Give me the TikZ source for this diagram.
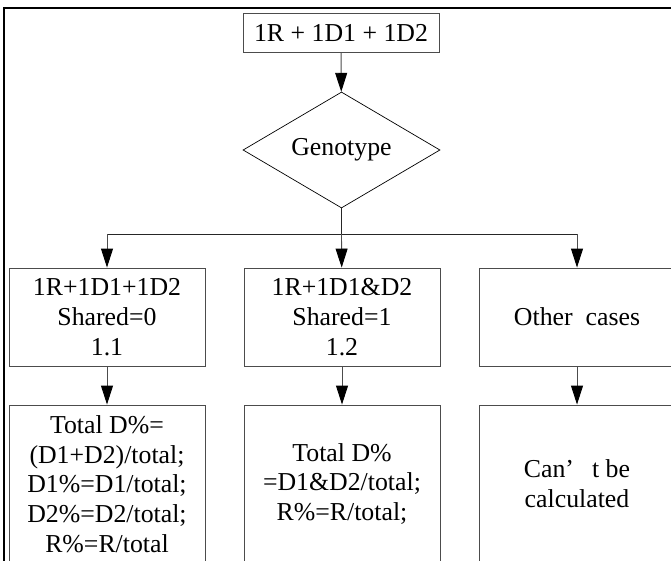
\documentclass[tikz,border=0pt]{standalone}
\usepackage{fontspec}
\setmainfont{Liberation Serif}
\usetikzlibrary{shapes.geometric,arrows.meta}

\begin{document}
\begin{tikzpicture}[x=1pt,y=-1pt]

% ---------- common style ----------
\tikzstyle{txt}=[font=\fontsize{25.8}{29.7}\selectfont,align=center]
\tikzstyle{box}=[txt,draw=black!70,line width=0.9pt,minimum width=196pt,inner sep=2pt]
\tikzstyle{choice}=[txt,diamond,draw=black,line width=0.7pt,inner sep=0pt,aspect=1.7,
                    minimum width=197pt,minimum height=116pt]
\tikzstyle{arrow}=[draw=black!70,line width=0.9pt,-{Triangle[width=12pt,length=19pt,black]}]
\tikzstyle{link}=[draw=black!85,line width=0.8pt]

% page size, frame is cut off on the right and at the bottom
\useasboundingbox (0,0) rectangle (671,561);
\clip (0,0) rectangle (671,561);
\draw[black,line width=1.3pt] (4,8) rectangle (720,620);

% ================== top: input and decision ==================
\node[box,minimum height=39pt] (top) at (341,32.5) {1R + 1D1 + 1D2};
\node[choice] (geno) at (341.5,150) {Genotype};

\coordinate (split) at (341.5,234);

% ================== row 1: the three cases ==================
\node[box,minimum height=98pt] (case1) at (107,317) {1R+1D1+1D2\\Shared=0\\1.1};
\node[box,minimum height=98pt] (case2) at (342,317) {1R+1D1\&D2\\Shared=1\\1.2};
\node[box,minimum height=98pt] (case3) at (577,317) {Other\ \ cases};

% ================== row 2: what is computed ==================
\node[box,minimum height=158pt] (res1) at (107,484)
      {Total D\%=\\(D1+D2)/total;\\D1\%=D1/total;\\D2\%=D2/total;\\R\%=R/total};
\node[box,minimum height=158pt] (res2) at (342,484)
      {Total D\%\\=D1\&D2/total;\\R\%=R/total;};
\node[box,minimum height=158pt] (res3) at (577,484)
      {Can’\hspace{0.45em} t be\\calculated};

% connectors
\draw[arrow] (top) -- (geno);
\draw[link] (geno.south) -- (split);
\draw[link] (split -| case1) -- (split -| case3);
\draw[arrow] (split -| case1) -- (case1);
\draw[arrow] (split) -- (case2);
\draw[arrow] (split -| case3) -- (case3);
\draw[arrow] (case1) -- (res1);
\draw[arrow] (case2) -- (res2);
\draw[arrow] (case3) -- (res3);

\end{tikzpicture}
\end{document}
